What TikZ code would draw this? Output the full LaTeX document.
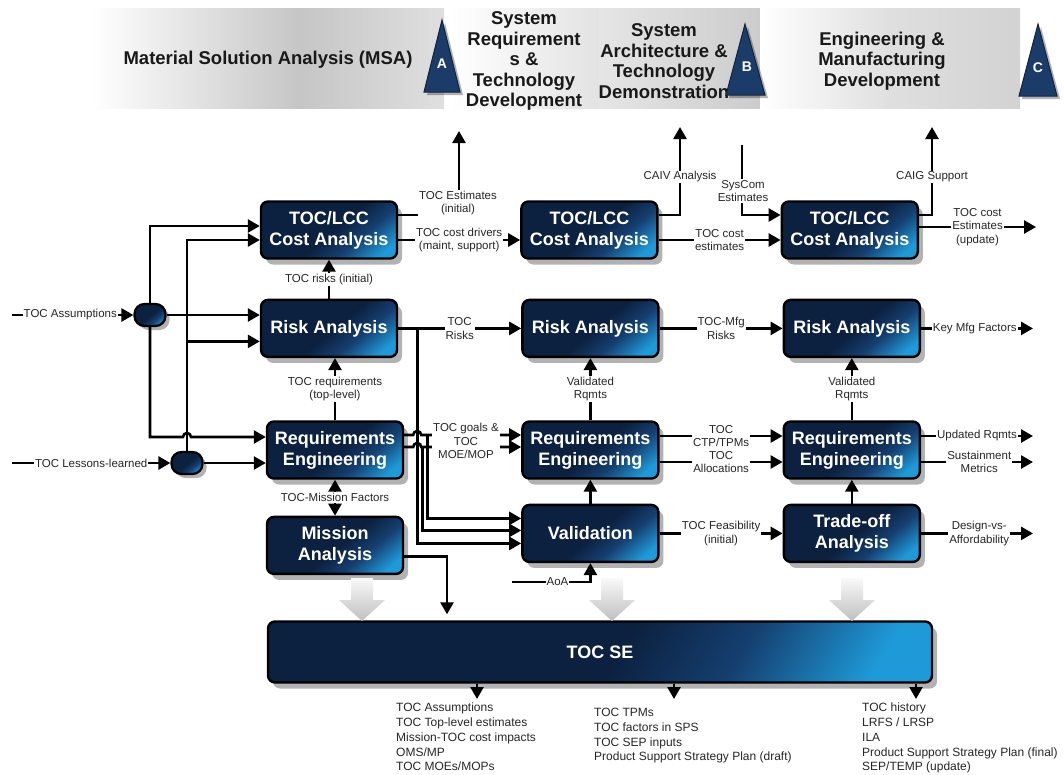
\documentclass[tikz,border=0pt]{standalone}
\usepackage{fontspec}
\setmainfont{Liberation Sans}
\usetikzlibrary{arrows.meta, positioning, shadows}

\definecolor{navyA}{HTML}{0C2140}
\definecolor{navyB}{HTML}{153F70}
\definecolor{navyC}{HTML}{1E9AD8}
\definecolor{triblue}{HTML}{1B3C68}

\pgfdeclarehorizontalshading{navyshade}{100bp}{color(0bp)=(navyA); color(52bp)=(navyA); color(64bp)=(navyB); color(78bp)=(navyC); color(100bp)=(navyC)}

\tikzset{
  tocbox/.style={draw=black, line width=2.4pt, rounded corners=7pt, shade, shading=navyshade, shading angle=-50,
    text=white, font=\fontsize{18}{21}\selectfont\bfseries, align=center,
    minimum width=136pt, minimum height=57pt, inner sep=2pt,
    drop shadow={shadow xshift=5pt, shadow yshift=-6pt, fill=black, opacity=.3}},
  tocjoin/.style={draw=black, line width=2.2pt, rounded corners=10pt, shade, shading=navyshade, shading angle=-50,
    minimum width=31pt, minimum height=22pt, inner sep=0pt,
    drop shadow={shadow xshift=4pt, shadow yshift=-4pt, fill=black, opacity=.3}},
  flow/.style={line width=2.6pt, -{Triangle[length=12pt, width=13pt]}},
  flowboth/.style={line width=2.6pt, {Triangle[length=12pt, width=13pt]}-{Triangle[length=12pt, width=13pt]}},
  lbl/.style={fill=white, inner sep=1pt, align=center, text=black!85, font=\fontsize{11.5}{13.5}\selectfont},
  outtext/.style={anchor=north west, align=left, inner sep=0pt, text=black!85, font=\fontsize{12}{14.75}\selectfont},
  phase/.style={align=center, text=black!90, font=\fontsize{18.5}{20.5}\selectfont\bfseries},
  milestone/.style={fill=triblue, draw=triblue!60!black, line width=1pt,
    drop shadow={shadow xshift=3pt, shadow yshift=-3pt, fill=black, opacity=.3}},
  mslabel/.style={text=white, font=\fontsize{14}{16}\selectfont\bfseries, inner sep=0pt}
}

\begin{document}
\begin{tikzpicture}[x=1pt, y=1pt]
	\useasboundingbox (0,0) rectangle (1064,-774);
	
	% phase banner
	\shade[left color=white, right color=gray!45] (92,-8) rectangle (300,-108);
	\shade[left color=gray!45, right color=gray!25] (300,-8) rectangle (444,-108);
	\shade[left color=white, right color=gray!22] (450,-8) rectangle (598,-108);
	\shade[left color=gray!20, right color=gray!40] (598,-8) rectangle (760,-108);
	\shade[left color=white, right color=gray!25] (760,-8) rectangle (890,-108);
	\shade[left color=gray!25, right color=gray!35] (890,-8) rectangle (1020,-108);
	
	\node[phase] (msa) at (268,-60) {Material Solution Analysis (MSA)};
	\node[phase] (tdph) at (524,-61) {System\\Requirement\\s \&\\Technology\\Development};
	\begin{scope}
		\clip (598,-8) rectangle (1020,-108);
		\node[phase] (tmph) at (664,-61) {System\\Architecture \&\\Technology\\Demonstration};
	\end{scope}
	\node[phase] (emph) at (882,-61) {Engineering \&\\Manufacturing\\Development};
	
	% milestones
	\filldraw[milestone] (424,-92) -- (442,-20) -- (460,-92) -- cycle;
	\filldraw[milestone] (726,-95) -- (745,-24) -- (765,-95) -- cycle;
	\filldraw[milestone] (1019,-96) -- (1038,-24) -- (1057,-96) -- cycle;
	\node[mslabel] (msA) at (442,-64) {A};
	\node[mslabel] (msB) at (747,-67) {B};
	\node[mslabel] (msC) at (1038,-68) {C};
	
	% column 1
	\node[tocbox] (Cost1) at (329,-230) {TOC/LCC\\Cost Analysis};
	\node[tocbox, below=39pt of Cost1] (Risk1) {Risk Analysis};
	\node[tocbox] (Req1) at (335,-450) {Requirements\\Engineering};
	\node[tocbox, below=36pt of Req1] (Mission1) {Mission\\Analysis};
	
	% column 2
	\node[tocbox, right=122pt of Cost1] (Cost2) {TOC/LCC\\Cost Analysis};
	\node[tocbox, right=123pt of Risk1] (Risk2) {Risk Analysis};
	\node[tocbox, right=117pt of Req1] (Req2) {Requirements\\Engineering};
	\node[tocbox, below=24pt of Req2] (Valid) {Validation};
	
	% column 3
	\node[tocbox, right=122pt of Cost2] (Cost3) {TOC/LCC\\Cost Analysis};
	\node[tocbox, right=123pt of Risk2] (Risk3) {Risk Analysis};
	\node[tocbox, right=123pt of Req2] (Req3) {Requirements\\Engineering};
	\node[tocbox, right=123pt of Valid] (Trade) {Trade-off\\Analysis};
	
	% TOC SE
	\node[tocbox, minimum width=664pt, minimum height=61pt, shading angle=-30] (TOCSE) at (600,-652) {TOC SE};
	
	% joins
	\node[tocjoin] (join1) at (150,-315) {};
	\node[tocjoin] (join2) at (187,-463) {};
	
	% big gray arrows
	\foreach \x in {362,612,852}
		\shade[top color=gray!5, bottom color=gray!50] (\x-11,-578) -- (\x+11,-578) -- (\x+11,-600) -- (\x+23,-600)
			-- (\x,-621) -- (\x-23,-600) -- (\x-11,-600) -- cycle;
	
	% inputs
	\coordinate (inAss) at (12,-315);
	\coordinate (inLes) at (12,-463);
	\draw[flow] (inAss) -- node[lbl, pos=.48] (lAss) {TOC Assumptions} (join1);
	\draw[flow] (inLes) -- node[lbl, pos=.5] (lLes) {TOC Lessons-learned} (join2);
	
	\draw[flow] (join1.north) |- ([yshift=4pt]Cost1.west);
	\draw[flow] (join1) -- (join1 -| Risk1.west);
	\draw[flow] (join1.south) -- (150,-437) -- (183,-437) arc[start angle=180, end angle=0, radius=4] -- ([yshift=13pt]Req1.west);
	\draw[flow] (join2.north) |- ([yshift=-10pt]Cost1.west);
	\coordinate (r1b) at ([yshift=-13pt]Risk1.west);
	\draw[flow] (join2.north |- r1b) -- (r1b);
	\draw[flow] (join2) -- (join2 -| Req1.west);
	
	% column 1 links
	\coordinate (estUp) at (459,-131);
	\draw[flow] ([yshift=15pt]Cost1.east) -| (estUp);
	\node[lbl] (lEst) at (458,-203) {TOC Estimates\\(initial)};
	\draw[flow] ([yshift=-10pt]Cost1.east) -- node[lbl] (lDrv) {TOC cost drivers\\(maint, support)} ([yshift=-10pt]Cost2.west);
	\draw[flow] (Risk1.north) -- node[lbl] (lRsk) {TOC risks (initial)} (Cost1.south);
	\draw[flow] (Risk1) -- node[lbl] (lRisks) {TOC\\Risks} (Risk2);
	\draw[flow] ([xshift=19pt]Risk1.east) |- ([yshift=-10pt]Valid.west);
	\draw[flow] (Req1.north) -- node[lbl] (lReqs) {TOC requirements\\(top-level)} (Req1.north |- Risk1.south);
	\draw[flowboth] (Req1.south) -- node[lbl] (lMis) {TOC-Mission Factors} (Mission1.north);
	
	\draw[flow] ([yshift=15pt]Req1.east) -- ++(9,0) arc[start angle=180, end angle=0, radius=4] -- ([yshift=15pt]Req2.west);
	\draw[flow] ([yshift=15pt, xshift=23pt]Req1.east) |- ([yshift=15pt]Valid.west);
	\draw[flow] ([yshift=3pt]Req1.east) -- ++(9,0) arc[start angle=180, end angle=0, radius=4] -- ([yshift=3pt]Req2.west);
	\draw[flow] ([yshift=3pt, xshift=18pt]Req1.east) |- ([yshift=3pt]Valid.west);
	\node[lbl] (lGoal) at (466,-441) {TOC goals \&\\TOC\\MOE/MOP};
	
	\coordinate (mx) at (447,0);
	\draw[flow, shorten >=6pt] ([yshift=-11pt]Mission1.east) -| (mx |- TOCSE.north);
	
	% column 2 links
	\coordinate (aoa) at (512,-582);
	\draw[flow] (aoa) -| node[lbl, pos=.29, inner sep=.5pt] (lAoA) {AoA} (Valid.south);
	\draw[flow] (Valid) -- (Req2);
	\draw[flow] (Req2) -- node[lbl] (lVal1) {Validated\\Rqmts} (Risk2);
	\coordinate (caivUp) at (680,-127);
	\draw[flow] ([yshift=15pt]Cost2.east) -| (caivUp);
	\node[lbl] (lCaiv) at (680,-177) {CAIV Analysis};
	\draw[flow] ([yshift=-10pt]Cost2.east) -- node[lbl] (lCst) {TOC cost\\estimates} ([yshift=-10pt]Cost3.west);
	\coordinate (sysc) at (742,-145);
	\draw[flow] (sysc) |- ([yshift=15pt]Cost3.west);
	\node[lbl] (lSys) at (743,-191) {SysCom\\Estimates};
	\draw[flow] (Risk2) -- node[lbl] (lMfg) {TOC-Mfg\\Risks} (Risk3);
	\draw[flow] ([yshift=14pt]Req2.east) -- node[lbl] (lCtp) {TOC\\CTP/TPMs} ([yshift=14pt]Req3.west);
	\draw[flow] ([yshift=-12pt]Req2.east) -- node[lbl] (lAll) {TOC\\Allocations} ([yshift=-12pt]Req3.west);
	\draw[flow] (Valid) -- node[lbl] (lFeas) {TOC Feasibility\\(initial)} (Trade);
	
	% column 3 links
	\coordinate (caigUp) at (932,-127);
	\draw[flow] ([yshift=15pt]Cost3.east) -| (caigUp);
	\node[lbl] (lCaig) at (932,-177) {CAIG Support};
	\draw[flow] ([yshift=3pt]Cost3.east) -- node[lbl, pos=.5] (lUpd) {TOC cost\\Estimates\\(update)} ++(117,0);
	\draw[flow] (Risk3.east) -- node[lbl, pos=.48] (lKey) {Key Mfg Factors} ++(112,0);
	\draw[flow] (Trade) -- (Req3);
	\draw[flow] (Req3) -- node[lbl] (lVal2) {Validated\\Rqmts} (Risk3);
	\draw[flow] ([yshift=14pt]Req3.east) -- node[lbl, pos=.5] (lUpR) {Updated Rqmts} ++(112,0);
	\draw[flow] ([yshift=-12pt]Req3.east) -- node[lbl, pos=.52] (lSus) {Sustainment\\Metrics} ++(112,0);
	\draw[flow] (Trade.east) -- node[lbl, pos=.52] (lDes) {Design-vs-\\Affordability} ++(112,0);
	
	% TOC SE outputs
	\coordinate (seL) at (477,-699);
	\coordinate (seM) at (674,-699);
	\coordinate (seR) at (916,-699);
	\draw[flow] (TOCSE.south -| seL) -- (seL);
	\draw[flow] (TOCSE.south -| seM) -- (seM);
	\draw[flow] (TOCSE.south -| seR) -- (seR);
	\node[outtext] (outL) at (396,-703) {TOC Assumptions\\TOC Top-level estimates\\Mission-TOC cost impacts\\OMS/MP\\TOC MOEs/MOPs};
	\node[outtext] (outM) at (594,-708) {TOC TPMs\\TOC factors in SPS\\TOC SEP inputs\\Product Support Strategy Plan (draft)};
	\node[outtext] (outR) at (862,-703) {TOC history\\LRFS / LRSP\\ILA\\Product Support Strategy Plan (final)\\SEP/TEMP (update)};
	
\end{tikzpicture}
\end{document}
